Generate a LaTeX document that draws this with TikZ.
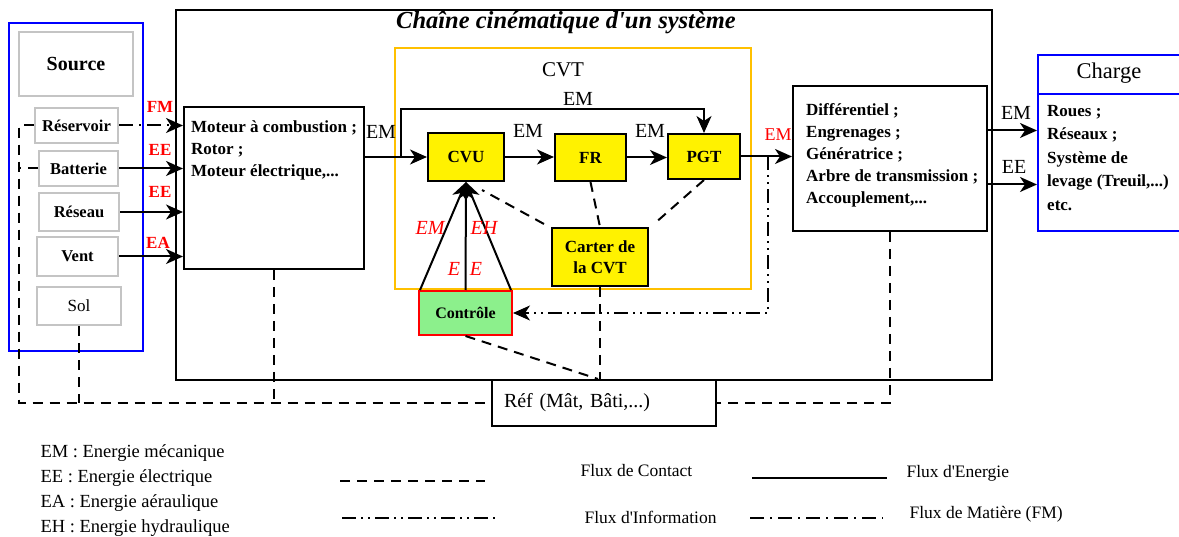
\documentclass[tikz,border=0pt]{standalone}
\usepackage{fontspec}
\setmainfont{Liberation Serif}
\usetikzlibrary{arrows.meta,positioning}
\definecolor{cvtorange}{HTML}{FFC000}
\definecolor{boxyellow}{HTML}{FFF200}
\definecolor{ctrlgreen}{HTML}{8CF08C}
\definecolor{srcgray}{HTML}{C4C4C4}

\begin{document}
\begin{tikzpicture}[x=1pt, y=-1pt, >={Stealth[length=17pt,width=15pt,inset=5pt]},
  box/.style={draw, line width=2pt, rectangle, inner sep=0pt},
  srcbox/.style={draw=srcgray, line width=2.2pt, rectangle, inner sep=0pt, font=\fontsize{16.5}{18}\selectfont\bfseries},
  yelbox/.style={box, fill=boxyellow, font=\fontsize{17}{21}\selectfont\bfseries, align=center},
  boxtext/.style={anchor=north west, align=left, inner sep=0pt, font=\fontsize{17}{22}\selectfont\bfseries},
  energy/.style={line width=2pt},
  contact/.style={line width=2pt, dash pattern=on 10pt off 7pt},
  info/.style={line width=2pt, dash pattern=on 14pt off 5pt on 2pt off 5pt on 2pt off 5pt},
  matter/.style={line width=2pt, dash pattern=on 14pt off 6pt on 2pt off 6pt},
  flowlbl/.style={font=\fontsize{20}{20}\selectfont},
  redlbl/.style={text=red, font=\fontsize{17}{20}\selectfont\bfseries},
  redital/.style={text=red, font=\fontsize{20}{20}\selectfont\itshape},
  legtext/.style={anchor=west, font=\fontsize{18.5}{20}\selectfont}]

\clip (0,0) rectangle (1179,537);

% Chaine cinematique
\node (chain) [box, minimum width=816pt, minimum height=370pt] at (584,195) {};
\node (title) [font=\fontsize{24.5}{26}\selectfont\bfseries\itshape] at (566,23) {Chaîne cinématique d\textquotesingle un système};

% Source
\node (srcframe) [draw=blue, line width=2pt, minimum width=134pt, minimum height=328pt] at (76,187) {};
\node (source) [srcbox, minimum width=114pt, minimum height=64pt, font=\fontsize{20}{20}\selectfont\bfseries] at (76,64) {Source};
\node (res) [srcbox, minimum width=83pt, minimum height=35pt] at (76.5,125.5) {Réservoir};
\node (bat) [srcbox, minimum width=79pt, minimum height=35pt] at (78.5,168.5) {Batterie};
\node (reseau) [srcbox, minimum width=80pt, minimum height=38pt] at (79,212) {Réseau};
\node (vent) [srcbox, minimum width=81pt, minimum height=39pt] at (77.5,256.5) {Vent};
\node (sol) [srcbox, minimum width=84pt, minimum height=38pt, font=\fontsize{17}{18}\selectfont] at (79,306) {Sol};

% Moteur
\node (motor) [box, minimum width=180pt, minimum height=162pt] at (274,188) {};
\node (motortxt) [boxtext] at (191,120) {Moteur à combustion ;\\ Rotor ;\\ Moteur électrique,...};

% CVT
\node (cvtframe) [draw=cvtorange, line width=2pt, minimum width=356pt, minimum height=241pt] at (573,168.5) {};
\node (cvtlbl) [font=\fontsize{21}{22}\selectfont] at (563,70) {CVT};
\node (cvu) [yelbox, minimum width=76pt, minimum height=48pt] at (466,157) {CVU};
\node (fr) [yelbox, minimum width=71pt, minimum height=47pt] at (590.5,157.5) {FR};
\node (pgt) [yelbox, minimum width=72pt, minimum height=45pt] at (704,156.5) {PGT};
\node (carter) [yelbox, minimum width=96pt, minimum height=58pt] at (600,257) {Carter de\\ la CVT};
\node (ctrl) [box, draw=red, fill=ctrlgreen, minimum width=93pt, minimum height=44pt, font=\fontsize{16}{18}\selectfont\bfseries] at (465.5,313) {Contrôle};

% Transmission
\node (diff) [box, minimum width=194pt, minimum height=145pt] at (890,158.5) {};
\node (difftxt) [boxtext] at (806,103) {Différentiel ;\\ Engrenages ;\\ Génératrice ;\\ Arbre de transmission ;\\ Accouplement,...};

% Charge
\node (charge) [draw=blue, line width=2pt, minimum width=147pt, minimum height=176pt] at (1111.5,143) {};
\draw[blue, line width=2pt] ([yshift=-40pt]charge.north west) -- ([yshift=-40pt]charge.north east);
\node (chargelbl) [font=\fontsize{22.5}{24}\selectfont] at (1109,73) {Charge};
\node (chargetxt) [boxtext, font=\fontsize{17}{23.5}\selectfont\bfseries] at (1047,105) {Roues ;\\ Réseaux ;\\ Système de\\ levage (Treuil,...)\\ etc.};

% Ref
\node (ref) [box, minimum width=224pt, minimum height=46pt, text width=200pt, align=left, font=\fontsize{20}{20}\selectfont] at (604,403) {Réf (Mât, Bâti,...)};

% Flux source -> moteur
\draw[matter,->] (res.east) -- (res.east -| motor.west);
\draw[energy,->] (bat.east) -- (bat.east -| motor.west);
\draw[energy,->] (reseau.east) -- (reseau.east -| motor.west);
\draw[energy,->] (vent.east) -- (vent.east -| motor.west);
\node (fmlbl) [redlbl] at (160,107) {FM};
\node (ee1lbl) [redlbl] at (160,150) {EE};
\node (ee2lbl) [redlbl] at (160,192) {EE};
\node (ealbl) [redlbl] at (158,243) {EA};

% Flux d'energie dans la CVT
\coordinate (split) at (401,157);
\coordinate (looptop) at (401,109);
\draw[energy,->] (motor.east |- cvu) -- (cvu.west);
\draw[energy,->] (split) -- (looptop) -| (pgt.north);
\draw[energy,->] (cvu.east) -- (cvu.east -| fr.west);
\draw[energy,->] (fr.east) -- (fr.east -| pgt.west);
\draw[energy,->] (pgt.east) -- (pgt.east -| diff.west);
\node (em0) [flowlbl] at (381,132) {EM};
\node (emtop) [flowlbl] at (578,99) {EM};
\node (em1) [flowlbl] at (528,131) {EM};
\node (em2) [flowlbl] at (650,131) {EM};
\node (em3) [flowlbl, text=red, font=\fontsize{18}{20}\selectfont] at (778,135) {EM};

% Controle
\draw[energy,->] ([xshift=2pt]ctrl.north west) -- (cvu.south);
\draw[energy,->] (ctrl.north) -- (cvu.south);
\draw[energy,->] ([xshift=-2pt]ctrl.north east) -- (cvu.south);
\node (emc) [redital] at (430,228) {EM};
\node (ehc) [redital] at (484,228) {EH};
\node (ec1) [redital] at (454,269) {E};
\node (ec2) [redital] at (476,269) {E};
\coordinate (infotap) at (768,156.5);
\draw[info,->] (infotap) |- (ctrl.east);

% Transmission -> charge
\coordinate (emout) at ([yshift=28pt]diff.east);
\coordinate (eeout) at ([yshift=-26pt]diff.east);
\draw[energy,->] (emout) -- (emout -| charge.west);
\draw[energy,->] (eeout) -- (eeout -| charge.west);
\node (emch) [flowlbl] at (1016,113) {EM};
\node (eech) [flowlbl] at (1014,167) {EE};

% Flux de contact
\coordinate (gndL) at (19,403);
\coordinate (gndR) at (891,403);
\draw[contact] (res.west) -- (res.west -| gndL) -- (gndL) -- (ref.west);
\draw[contact] (bat.west) -- (bat.west -| gndL);
\draw[contact] (sol.south) -- (sol.south |- gndL);
\draw[contact] (motor.south) -- (motor.south |- gndL);
\draw[contact] (diff.south) -- (diff.south |- gndR) -- (ref.east);
\draw[contact] (carter.south) -- (carter.south |- ref.north);
\draw[contact] (ctrl.south) -- ([xshift=-6pt]ref.north);
\draw[contact] (fr.south) -- (carter.north);
\draw[contact] (pgt.south) -- ([xshift=5pt,yshift=3pt]carter.north east);
\draw[contact] ([xshift=-7pt,yshift=3pt]carter.north west) -- ([xshift=16pt,yshift=-8pt]cvu.south);

% Legende
\node (legem) [legtext] at (37,453) {EM : Energie mécanique};
\node (legee) [legtext] at (37,478) {EE : Energie électrique};
\node (legea) [legtext] at (37,503) {EA : Energie aéraulique};
\node (legeh) [legtext] at (37,528) {EH : Energie hydraulique};

\draw[contact] (340,481) -- (485,481);
\node (legcontact) [legtext, font=\fontsize{17.5}{20}\selectfont] at (577,471) {Flux de Contact};
\draw[energy] (752,478) -- (887,478);
\node (legenergie) [legtext, font=\fontsize{17.5}{20}\selectfont] at (903,473) {Flux d\textquotesingle Energie};
\draw[info] (342,518) -- (496,518);
\node (leginfo) [legtext, font=\fontsize{17.5}{20}\selectfont] at (581,517) {Flux d\textquotesingle Information};
\draw[matter] (750,518) -- (883,518);
\node (legmatiere) [legtext, font=\fontsize{17.5}{20}\selectfont] at (906,514) {Flux de Matière (FM)};

\end{tikzpicture}
\end{document}
